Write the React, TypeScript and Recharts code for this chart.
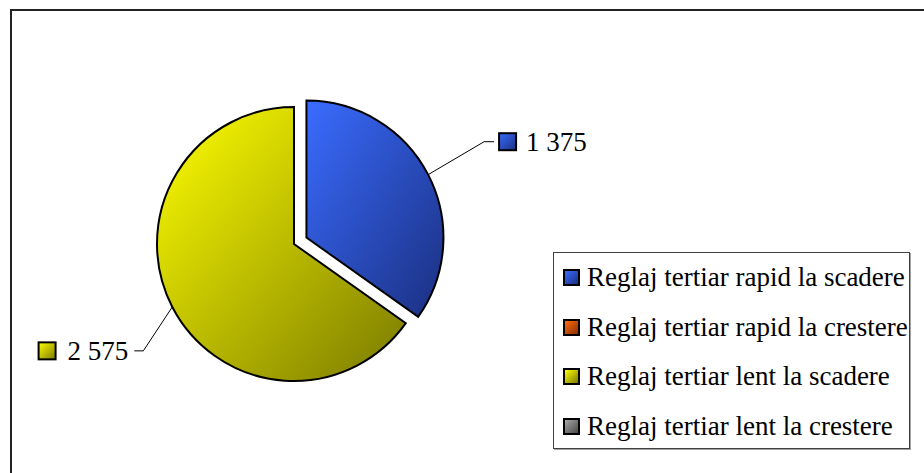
import { PieChart, Pie, Cell, Legend } from 'recharts';

const categories = [
  'Reglaj tertiar rapid la scadere',
  'Reglaj tertiar rapid la crestere',
  'Reglaj tertiar lent la scadere',
  'Reglaj tertiar lent la crestere',
];
const values = [1375, 0, 2575, 0];
const explodedIndex = 0;

const gradientStops: [string, string][] = [
  ['#3a6cff', '#1a2f80'],
  ['#ff6a10', '#8a3000'],
  ['#ffff00', '#7a7a00'],
  ['#a8a8a8', '#484848'],
];

const rows = categories.map((name, i) => ({ name, value: values[i] }));

const FONT = "'Liberation Serif'";
const FONT_SIZE = 27;
const CX = 294;
const CY = 244;
const R = 137;
const EXPLODE = 14;
const RAD = Math.PI / 180;

// mid angle of the exploded slice, pie runs clockwise from 12 o'clock
const total = values.reduce((a, b) => a + b, 0);
const before = values.slice(0, explodedIndex).reduce((a, b) => a + b, 0);
const explodedMid = 90 - (360 * (before + values[explodedIndex] / 2)) / total;
const ECX = CX + EXPLODE * Math.cos(explodedMid * RAD);
const ECY = CY - EXPLODE * Math.sin(explodedMid * RAD);

// Excel moved the labels by hand a bit
const labelNudge: Record<number, [number, number]> = { 0: [0, -4], 2: [27, 15] };

function fmt(v: number): string {
  return String(v).replace(/\B(?=(\d{3})+(?!\d))/g, ' ');
}

function textWidth(s: string): number {
  return s.split('').reduce((w, ch) => w + (ch === ' ' ? 0.25 : 0.5), 0) * FONT_SIZE;
}

function makeLabel(shown: number) {
  return (p: any) => {
    if (p.index !== shown || !p.value) return null;
    const cos = Math.cos(-p.midAngle * RAD);
    const sin = Math.sin(-p.midAngle * RAD);
    const ex = p.cx + p.outerRadius * cos;
    const ey = p.cy + p.outerRadius * sin;
    const [nx, ny] = labelNudge[p.index] ?? [0, 0];
    const bx = p.cx + (p.outerRadius + 63) * cos + nx;
    const by = p.cy + (p.outerRadius + 63) * sin + ny;
    const right = cos >= 0;
    const hx = bx + (right ? 10 : -9);
    const text = fmt(p.value);
    let sqX: number;
    let txX: number;
    if (right) {
      sqX = hx + 5;
      txX = sqX + 17 + 10;
    } else {
      txX = hx - 6;
      sqX = txX - textWidth(text) - 12 - 17;
    }
    return (
      <g>
        <polyline
          points={`${ex},${ey} ${bx},${by} ${hx},${by}`}
          fill="none"
          stroke="#000"
          strokeWidth={1}
        />
        <rect
          x={sqX}
          y={by - 8.5}
          width={17}
          height={17}
          fill={`url(#g${p.index})`}
          stroke="#000"
          strokeWidth={2}
        />
        <text
          x={txX}
          y={by + 9}
          textAnchor={right ? 'start' : 'end'}
          fill="#000"
          style={{ fontFamily: FONT, fontSize: FONT_SIZE }}
        >
          {text}
        </text>
      </g>
    );
  };
}

function LegendBox() {
  return (
    <div
      style={{
        boxSizing: 'border-box',
        width: 357,
        height: 197,
        border: '1px solid #404040',
        boxShadow: '1px 1px 0 #a0a0a0',
        background: '#fff',
        fontFamily: FONT,
        fontSize: FONT_SIZE,
        color: '#000',
      }}
    >
      {categories.map((c, i) => (
        <div
          key={c}
          style={{ height: 49.5, display: 'flex', alignItems: 'center', paddingLeft: 9, whiteSpace: 'nowrap' }}
        >
          <div
            style={{
              boxSizing: 'border-box',
              width: 17,
              height: 17,
              border: '2px solid #000',
              background: `linear-gradient(135deg, ${gradientStops[i][0]}, ${gradientStops[i][1]})`,
              marginRight: 7,
              flex: 'none',
            }}
          />
          <span>{c}</span>
        </div>
      ))}
    </div>
  );
}

export default function App() {
  return (
    <div style={{ position: 'absolute', left: 0, top: 0, width: 924, height: 473, overflow: 'hidden', background: '#fff' }}>
      <div
        style={{
          position: 'absolute',
          left: 10,
          top: 9,
          width: 914,
          height: 464,
          borderLeft: '2px solid #222',
          borderTop: '2px solid #222',
        }}
      />
      <PieChart width={924} height={473} margin={{ top: 0, right: 0, bottom: 0, left: 0 }}>
        <defs>
          {gradientStops.map(([a, b], i) => (
            <linearGradient key={i} id={`g${i}`} x1="0" y1="0" x2="1" y2="1">
              <stop offset="0%" stopColor={a} />
              <stop offset="100%" stopColor={b} />
            </linearGradient>
          ))}
        </defs>
        <Pie
          data={rows}
          dataKey="value"
          nameKey="name"
          cx={CX}
          cy={CY}
          outerRadius={R}
          startAngle={90}
          endAngle={-270}
          isAnimationActive={false}
          label={makeLabel(2)}
          labelLine={false}
          legendType="square"
        >
          {rows.map((r, i) => (
            <Cell
              key={r.name}
              fill={i === explodedIndex || !r.value ? 'none' : `url(#g${i})`}
              stroke={i === explodedIndex || !r.value ? 'none' : '#000'}
              strokeWidth={2}
            />
          ))}
        </Pie>
        <Pie
          data={rows}
          dataKey="value"
          nameKey="name"
          cx={ECX}
          cy={ECY}
          outerRadius={R}
          startAngle={90}
          endAngle={-270}
          isAnimationActive={false}
          label={makeLabel(explodedIndex)}
          labelLine={false}
          legendType="none"
        >
          {rows.map((r, i) => (
            <Cell
              key={r.name}
              fill={i === explodedIndex ? `url(#g${i})` : 'none'}
              stroke={i === explodedIndex ? '#000' : 'none'}
              strokeWidth={2}
            />
          ))}
        </Pie>
        <Legend
          layout="vertical"
          align="right"
          verticalAlign="top"
          content={() => <LegendBox />}
          wrapperStyle={{ left: 553, top: 252, width: 357, height: 197 }}
        />
      </PieChart>
    </div>
  );
}
